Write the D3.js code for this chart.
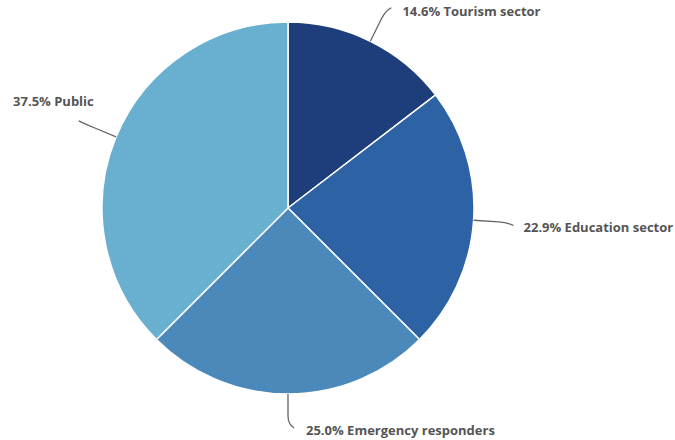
<!DOCTYPE html>
<html><head><meta charset="utf-8">
<script src="https://cdn.jsdelivr.net/npm/d3@7"></script>
<style>body{margin:0;background:#fff}svg{display:block}</style>
</head><body>
<svg id="chart" width="675" height="440"></svg>
<script>
const categories = ["Tourism sector", "Education sector", "Emergency responders", "Public"];
const values = [14.6, 22.9, 25.0, 37.5];
const colors = ["#1e3d7b", "#2d63a4", "#4a89ba", "#69afd0"];

const W = 675, H = 440, cx = 288, cy = 208, R = 186;
const svg = d3.select("#chart");
const g = svg.append("g").attr("transform", `translate(${cx},${cy})`);

const data = categories.map((c, i) => ({ name: c, value: values[i], color: colors[i] }));
const pie = d3.pie().value(d => d.value).sort(null);
const arcs = pie(data);
const arc = d3.arc().innerRadius(0).outerRadius(R);

g.selectAll("path.slice").data(arcs).join("path")
  .attr("class", "slice")
  .attr("d", arc)
  .attr("fill", d => d.data.color)
  .attr("stroke", "#fff").attr("stroke-width", 1.5).attr("stroke-linejoin", "round");

const pt = (a, r) => [Math.sin(a) * r, -Math.cos(a) * r];
const labelLayout = [
  { dx: 11, dy: 8 },
  { dx: 10, dy: 6 },
  { dx: 12, dy: 7 },
  { dx: 15, dy: -15 }
];

arcs.forEach((d, i) => {
  const m = (d.startAngle + d.endAngle) / 2;
  const side = Math.sin(m) >= -0.01 ? 1 : -1;
  const bottom = Math.abs(Math.sin(m)) < 0.1;
  const A = pt(m, R);
  const B = pt(m, R + (bottom ? 30 : 34));
  const C = [B[0] + side * 6, B[1] + (bottom ? 4 : -Math.sign(Math.cos(m)) * 3)];
  g.append("path")
    .attr("d", `M${A[0]},${A[1]} L${pt(m, R + (bottom ? 22 : 25))} Q${B[0]},${B[1]} ${C[0]},${C[1]}`)
    .attr("fill", "none").attr("stroke", "#666").attr("stroke-width", 1.3);
  const L = labelLayout[i];
  g.append("text")
    .attr("x", C[0] + L.dx).attr("y", C[1] + L.dy)
    .attr("text-anchor", side > 0 ? "start" : "end")
    .attr("font-family", "'Open Sans', sans-serif").attr("font-weight", 700)
    .attr("font-size", 13).attr("fill", "#555")
    .text(d3.format(".1f")(d.data.value) + "% " + d.data.name);
});
</script>
</body></html>
